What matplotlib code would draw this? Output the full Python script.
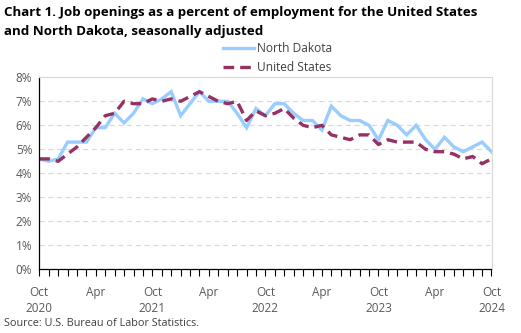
import matplotlib
matplotlib.use("Agg")
import matplotlib.pyplot as plt
import numpy as np

months = ["Oct 2020", "Nov 2020", "Dec 2020", "Jan 2021", "Feb 2021", "Mar 2021", "Apr 2021",
          "May 2021", "Jun 2021", "Jul 2021", "Aug 2021", "Sep 2021", "Oct 2021", "Nov 2021",
          "Dec 2021", "Jan 2022", "Feb 2022", "Mar 2022", "Apr 2022", "May 2022", "Jun 2022",
          "Jul 2022", "Aug 2022", "Sep 2022", "Oct 2022", "Nov 2022", "Dec 2022", "Jan 2023",
          "Feb 2023", "Mar 2023", "Apr 2023", "May 2023", "Jun 2023", "Jul 2023", "Aug 2023",
          "Sep 2023", "Oct 2023", "Nov 2023", "Dec 2023", "Jan 2024", "Feb 2024", "Mar 2024",
          "Apr 2024", "May 2024", "Jun 2024", "Jul 2024", "Aug 2024", "Sep 2024", "Oct 2024"]

north_dakota = [4.6, 4.5, 4.6, 5.3, 5.3, 5.3, 5.9, 5.9, 6.5, 6.1, 6.5, 7.1, 6.9, 7.1,
                7.4, 6.4, 6.9, 7.4, 7.0, 7.0, 7.0, 6.5, 5.9, 6.7, 6.4, 6.9, 6.9, 6.5,
                6.2, 6.2, 5.8, 6.8, 6.4, 6.2, 6.2, 6.0, 5.4, 6.2, 6.0, 5.6, 6.0, 5.4,
                5.0, 5.5, 5.1, 4.9, 5.1, 5.3, 4.9]

united_states = [4.6, 4.6, 4.5, 4.8, 5.1, 5.5, 5.9, 6.4, 6.5, 7.0, 6.9, 6.9, 7.1, 7.0,
                 7.1, 7.0, 7.2, 7.4, 7.2, 7.0, 6.9, 7.0, 6.2, 6.6, 6.4, 6.5, 6.7, 6.3,
                 6.0, 5.9, 6.0, 5.6, 5.5, 5.4, 5.6, 5.6, 5.2, 5.4, 5.3, 5.3, 5.3, 5.0,
                 4.9, 4.9, 4.8, 4.6, 4.7, 4.4, 4.6]

tick_labels = {0: "Oct\n2020", 6: "Apr", 12: "Oct\n2021", 18: "Apr", 24: "Oct\n2022",
               30: "Apr", 36: "Oct\n2023", 42: "Apr", 48: "Oct\n2024"}

plt.rcParams['font.family'] = ['Open Sans', 'DejaVu Sans']

fig = plt.figure(figsize=(5.21, 3.33), dpi=100)
ax = fig.add_axes([39.3/521, 1-269.3/333, (491.5-39.3)/521, (269.3-77.3)/333])

x = np.arange(len(months))
ax.plot(x, north_dakota, color='#99CCFF', lw=2.4, label='North Dakota', solid_joinstyle='miter')
ax.plot(x, united_states, color='#953163', lw=2.4, ls=(0, (3.2, 1.8)), label='United States')

ax.set_xlim(0, len(months) - 1)
ax.set_ylim(0, 8)
ax.set_yticks(range(0, 9))
ax.set_yticklabels([f"{v}%" for v in range(0, 9)], fontsize=8.5, color='#595959')
for v in range(1, 8):
    ax.axhline(v, color='#D9D9D9', lw=0.9, ls=(0, (4, 3)), zorder=0)
ax.tick_params(axis='y', length=0, pad=5)

ax.set_xticks(x)
ax.set_xticklabels([tick_labels.get(i, "") for i in x], fontsize=8.5, color='#595959',
                   linespacing=1.3)
ax.tick_params(axis='x', length=5, width=0.8, color='black', pad=7)

for s in ['top', 'right']:
    ax.spines[s].set_color('#D9D9D9')
    ax.spines[s].set_linewidth(0.9)
for s in ['left', 'bottom']:
    ax.spines[s].set_color('black')
    ax.spines[s].set_linewidth(0.9)

fig.text(4/521, 1-22/333, "Chart 1. Job openings as a percent of employment for the United States\nand North Dakota, seasonally adjusted",
         fontsize=9.6, fontweight='bold', va='center', ha='left', linespacing=1.6, color='black')

leg = fig.legend(loc='upper left', bbox_to_anchor=(223/521, 1-42/333), frameon=False,
                 fontsize=8.6, labelcolor='#404040', handlelength=2.6, handletextpad=0.25,
                 labelspacing=0.5, borderaxespad=0, borderpad=0)

fig.text(4/521, 1-324/333, "Source: U.S. Bureau of Labor Statistics.", fontsize=7.8,
         color='#404040', va='center', ha='left')

fig.savefig("out.png", dpi=100)
